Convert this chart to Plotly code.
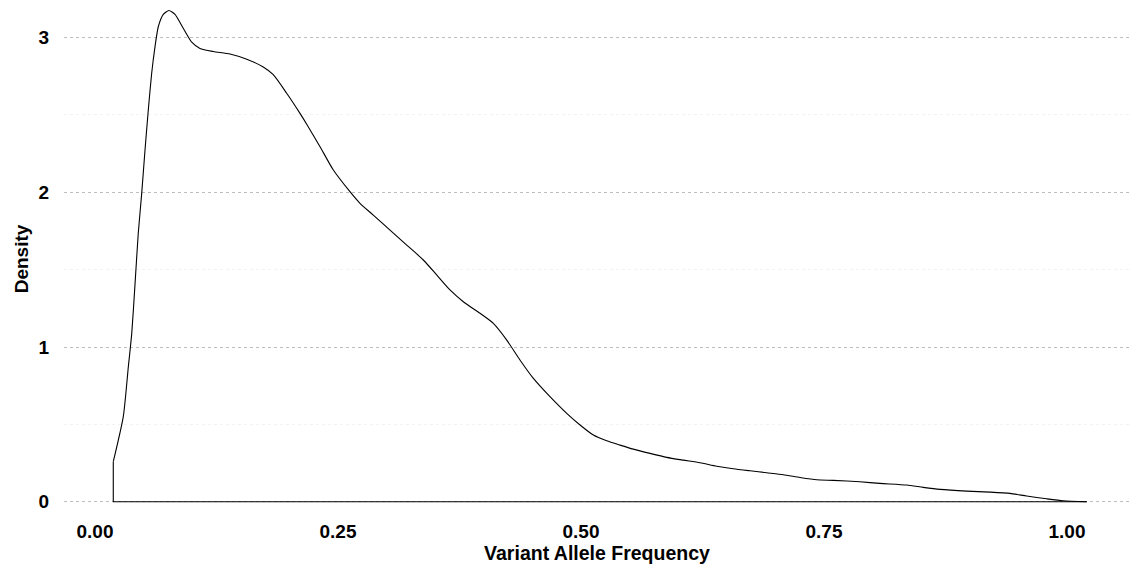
import plotly.graph_objects as go

# Density curve
vaf = [0.0188, 0.0291, 0.0343, 0.0378, 0.0412, 0.0445, 0.048, 0.0514, 0.0548, 0.0583,
       0.0617, 0.0651, 0.0703, 0.0761, 0.0823, 0.0908, 0.0995, 0.108, 0.1217, 0.1389,
       0.1561, 0.1731, 0.1834, 0.1972, 0.2109, 0.2178, 0.2315, 0.2452, 0.2623, 0.2726,
       0.2863, 0.3035, 0.3207, 0.3378, 0.3515, 0.3652, 0.3789, 0.3961, 0.4098, 0.4236,
       0.4372, 0.451, 0.4681, 0.4853, 0.499, 0.5127, 0.5264, 0.5401, 0.5538, 0.571,
       0.5882, 0.6052, 0.6224, 0.6396, 0.6567, 0.6739, 0.6911, 0.7081, 0.7253, 0.7425,
       0.7596, 0.787, 0.8076, 0.8351, 0.8521, 0.8693, 0.8968, 0.9208, 0.9414, 0.9585,
       0.9791, 0.9962, 1.0203]
density = [0.259, 0.55, 0.873, 1.088, 1.41, 1.735, 1.99, 2.27, 2.53, 2.77,
           2.94, 3.07, 3.15, 3.175, 3.15, 3.06, 2.97, 2.93, 2.91, 2.894,
           2.86, 2.81, 2.76, 2.64, 2.51, 2.44, 2.295, 2.144, 2.004, 1.929,
           1.853, 1.756, 1.659, 1.5625, 1.466, 1.369, 1.293, 1.218, 1.153, 1.045,
           0.916, 0.797, 0.679, 0.571, 0.496, 0.431, 0.394, 0.366, 0.34, 0.3125,
           0.287, 0.269, 0.252, 0.23, 0.213, 0.2, 0.1875, 0.175, 0.157, 0.142,
           0.138, 0.129, 0.1185, 0.108, 0.093, 0.08, 0.069, 0.0625, 0.054, 0.037,
           0.019, 0.0065, 0.0]

x_ticks = [0, 0.25, 0.5, 0.75, 1.0]
x_ticklabels = ["0.00", "0.25", "0.50", "0.75", "1.00"]
y_ticks = [0, 1, 2, 3]
y_minor = [0.5, 1.5, 2.5]

FONT = "Liberation Sans, Arial, Helvetica, sans-serif"
FS = 19

fig = go.Figure()
# baseline and left edge of the density outline
fig.add_trace(go.Scatter(
    x=[vaf[-1], vaf[0], vaf[0]], y=[0, 0, density[0]],
    mode="lines", line=dict(color="black", width=1.1),
    hoverinfo="skip", showlegend=False))
fig.add_trace(go.Scatter(
    x=vaf, y=density, mode="lines",
    line=dict(color="black", width=1.1, shape="spline", smoothing=0.6),
    showlegend=False))

fig.update_layout(
    width=1130, height=569,
    margin=dict(l=64, r=0, t=0, b=51),
    paper_bgcolor="white", plot_bgcolor="white",
    font=dict(family=FONT, color="black"),
    xaxis=dict(
        range=[-0.0319, 1.0648],
        tickvals=x_ticks, ticktext=x_ticklabels,
        showgrid=False, zeroline=False, showline=False, ticks="",
        tickfont=dict(size=FS, weight="bold", color="black"),
        title=dict(text="Variant Allele Frequency",
                   font=dict(size=FS + 0.5, weight="bold", color="black"),
                   standoff=2),
    ),
    yaxis=dict(
        range=[-0.105, 3.243],
        tickvals=y_ticks,
        showgrid=True, gridcolor="#bdbdbd", griddash="dot", gridwidth=1,
        zeroline=False, showline=False, ticks="",
        ticklabelstandoff=14,
        tickfont=dict(size=FS, weight="bold", color="black"),
        minor=dict(tickvals=y_minor, showgrid=True, gridcolor="#f2f2f2",
                   gridwidth=1, ticks=""),
        title=dict(text="Density",
                   font=dict(size=FS, weight="bold", color="black"),
                   standoff=4),
    ),
)

fig.write_html("out.html")
